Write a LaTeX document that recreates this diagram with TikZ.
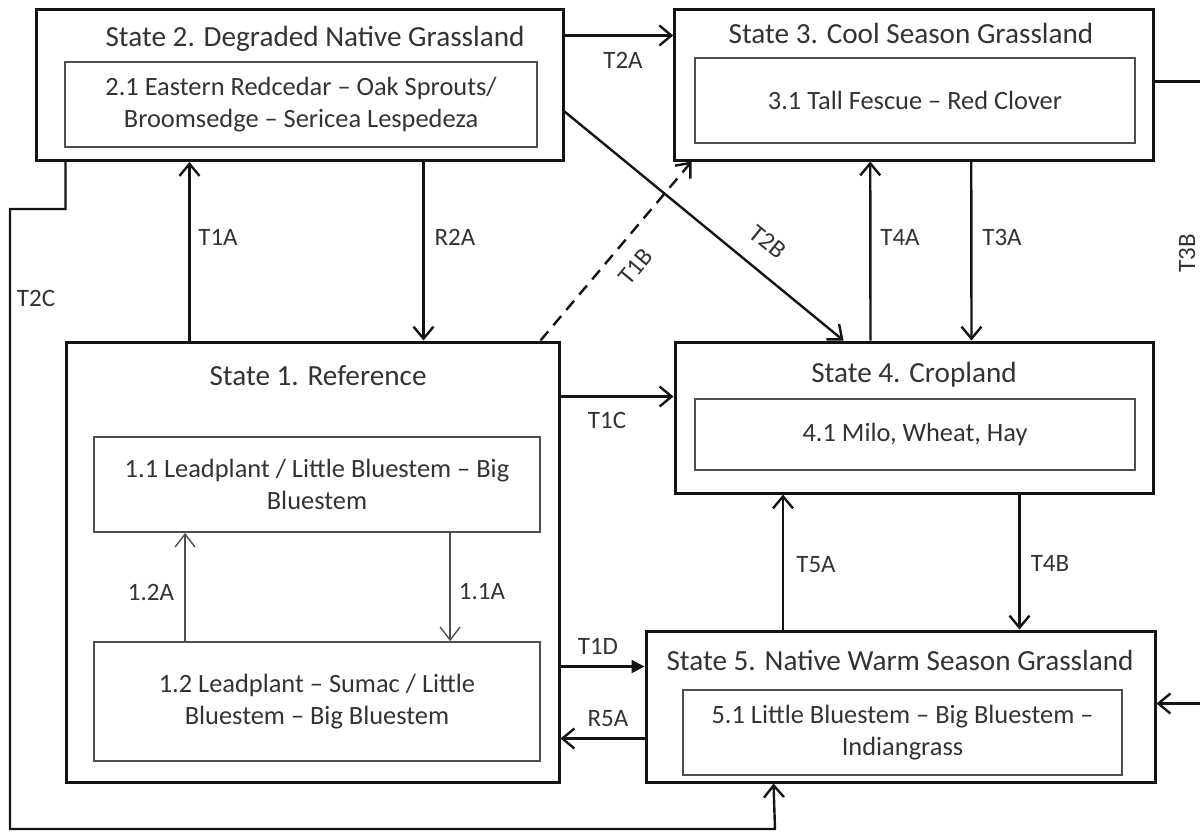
\documentclass[tikz,border=0pt]{standalone}
\usepackage{fontspec}
\setmainfont{Carlito}
\usetikzlibrary{arrows.meta,positioning}
\definecolor{ink}{HTML}{333333}
\definecolor{edge}{HTML}{141414}
\definecolor{phaseline}{HTML}{4E4E4E}
\tikzset{
  >={Straight Barb[length=6pt,width=10pt]},
  every node/.style={text=ink},
  statebox/.style={draw=edge,line width=1.5pt,inner sep=0pt},
  phasebox/.style={draw=phaseline,line width=0.9pt,align=center,inner sep=0pt,font=\fontsize{13.2}{16}\selectfont},
  title/.style={font=\fontsize{14.6}{17}\selectfont,inner sep=0pt,anchor=base},
  trans/.style={->,line width=1.2pt,draw=edge},
  pathway/.style={-{Straight Barb[length=6.5pt,width=10pt]},line width=0.7pt,draw=phaseline},
  lbl/.style={font=\fontsize{12.5}{15}\selectfont,inner sep=0pt},
}

\begin{document}
\begin{tikzpicture}[x=0.5pt,y=-0.5pt]
\useasboundingbox (0,0) rectangle (1200,832);
\clip (0,0) rectangle (1200,832);

% states
\node[statebox,minimum width=263.5pt,minimum height=75.75pt] (s2) at (299.5,84.75) {};
\node[title] (s2title) at (315,46.7) {State 2. Degraded Native Grassland};
\node[phasebox,minimum width=236pt,minimum height=42.5pt] (p21) at (301,104.5) {2.1 Eastern Redcedar -- Oak Sprouts/\\Broomsedge -- Sericea Lespedeza};

\node[statebox,minimum width=239.25pt,minimum height=75.5pt] (s3) at (914,84.5) {};
\node[title] (s3title) at (911,43.3) {State 3. Cool Season Grassland};
\node[phasebox,minimum width=220pt,minimum height=42.5pt] (p31) at (915,100.5) {3.1 Tall Fescue -- Red Clover};

\node[statebox,minimum width=246.5pt,minimum height=220pt] (s1) at (312.5,562) {};
\node[title] (s1title) at (318,385) {State 1. Reference};
\node[phasebox,minimum width=223pt,minimum height=47.5pt] (p11) at (317,484.5) {1.1 Leadplant / Little Bluestem -- Big\\Bluestem};
\node[phasebox,minimum width=223pt,minimum height=59.5pt] (p12) at (317,701.5) {1.2 Leadplant -- Sumac / Little\\Bluestem -- Big Bluestem};

\node[statebox,minimum width=239pt,minimum height=75.5pt] (s4) at (914,417.5) {};
\node[title] (s4title) at (914,382) {State 4. Cropland};
\node[phasebox,minimum width=220pt,minimum height=35.5pt] (p41) at (915,434.5) {4.1 Milo, Wheat, Hay};

\node[statebox,minimum width=254.5pt,minimum height=75.5pt] (s5) at (900.5,706.5) {};
\node[title] (s5title) at (900,670) {State 5. Native Warm Season Grassland};
\node[phasebox,minimum width=219.5pt,minimum height=42.5pt] (p51) at (902.5,732.5) {5.1 Little Bluestem -- Big Bluestem --\\Indiangrass};

% transitions between states
\draw[trans] ([yshift=-14pt]s2.north east) -- ([yshift=-14pt]s3.north west);
\draw[trans] ([xshift=62.5pt]s1.north west) -- ([xshift=77.5pt]s2.south west);
\draw[trans] ([xshift=194.5pt]s2.south west) -- ([xshift=179.5pt]s1.north west);
\draw[trans,dash pattern=on 6pt off 4pt] ([xshift=238pt]s1.north west) -- ([xshift=9.2pt]s3.south west);
\draw[trans] ([yshift=-52pt]s2.north east) -- ([xshift=85pt]s4.north west);
\draw[trans] ([xshift=98.5pt]s4.north west) -- ([xshift=98.5pt]s3.south west);
\draw[trans] ([xshift=149pt]s3.south west) -- ([xshift=149pt]s4.north west);
\draw[trans] ([yshift=-37pt]s3.north east) -- ++(23.5pt,0) |- ([yshift=-37pt]s5.north east);
\draw[trans] ([yshift=-28pt]s1.north east) -- ([yshift=-28pt]s4.north west);
\draw[trans,-{Triangle[length=6.5pt,width=6.5pt]}] ([yshift=-163pt]s1.north east) -- ([yshift=-18.5pt]s5.north west);
\draw[trans] ([yshift=-54.5pt]s5.north west) -- ([yshift=-199pt]s1.north east);
\draw[trans] ([xshift=69.25pt]s5.north west) -- ([xshift=54.75pt]s4.south west);
\draw[trans] ([xshift=173pt]s4.south west) -- ([xshift=187.5pt]s5.north west);
\coordinate (t2cstep) at (10,209);
\coordinate (t2cfoot) at (775,829);
\draw[trans] ([xshift=15.5pt]s2.south west) |- (t2cstep) |- (t2cfoot) -- ([xshift=64.5pt]s5.south west);

% community pathways
\draw[pathway] ([xshift=46pt]p12.north west) -- ([xshift=46pt]p11.south west);
\draw[pathway] ([xshift=178.5pt]p11.south west) -- ([xshift=178.5pt]p12.north west);

% labels
\node[lbl] (lt2a) at (623,60) {T2A};
\node[lbl] (lt1a) at (218,237) {T1A};
\node[lbl] (lr2a) at (455,237) {R2A};
\node[lbl] (lt2c) at (36,298) {T2C};
\node[lbl,rotate=50] (lt1b) at (636,267) {T1B};
\node[lbl,rotate=-39] (lt2b) at (768,242) {T2B};
\node[lbl] (lt4a) at (900,237) {T4A};
\node[lbl] (lt3a) at (1002,237) {T3A};
\node[lbl,rotate=90] (lt3b) at (1187,253) {T3B};
\node[lbl] (lt1c) at (607,420) {T1C};
\node[lbl] (lt1d) at (598,646) {T1D};
\node[lbl] (lr5a) at (608,719) {R5A};
\node[lbl] (lt5a) at (816,565) {T5A};
\node[lbl] (lt4b) at (1050,563) {T4B};
\node[lbl] (l12a) at (151,592) {1.2A};
\node[lbl] (l11a) at (482,592) {1.1A};

\end{tikzpicture}
\end{document}
